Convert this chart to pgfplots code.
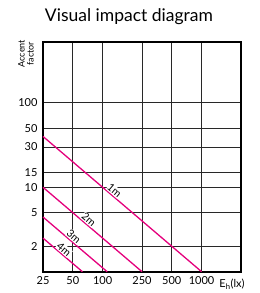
\documentclass[border=0pt]{standalone}
\usepackage{fontspec}
\setmainfont{Lato}
\usepackage{pgfplots}
\pgfplotsset{compat=1.18}
\definecolor{lmag}{RGB}{228,0,124}
\definecolor{grd}{RGB}{40,40,40}
\tikzset{lbl/.style={sloped, above, fill=white, inner sep=0.6pt, text=black, font=\fontsize{10.5}{10.5}\selectfont}}
\begin{document}
\begin{tikzpicture}
\useasboundingbox (-43pt,-21.3pt) rectangle (217pt,271.7pt);
\begin{axis}[
  at={(0pt,0pt)}, anchor=south west,
  scale only axis, width=198pt, height=230pt,
  xmode=log, ymode=log,
  xmin=25, xmax=2500, ymin=1, ymax=530,
  xtick={25,50,100,250,500,1000},
  xticklabels={25,50,100,250,500,1000},
  ytick={2,5,10,15,30,50,100},
  yticklabels={2,5,10,15,30,50,100},
  minor tick num=0, minor xtick={}, minor ytick={},
  tick style={draw=none},
  grid=major,
  major grid style={draw=grd, line width=0.9pt},
  axis line style={line width=2.2pt, black},
  ticklabel style={font=\fontsize{11}{11}\selectfont},
  xticklabel style={yshift=-1pt},
  yticklabel style={xshift=-2pt},
  /pgf/number format/assume math mode=true,
  clip=false,
]
\addplot[lmag, line width=1.3pt] coordinates {(25,40) (1000,1)}
  node[pos=0.43, lbl] {1m};
\addplot[lmag, line width=1.3pt] coordinates {(25,10) (250,1)}
  node[pos=0.43, lbl] {2m};
\addplot[lmag, line width=1.3pt] coordinates {(25,4.444) (111.1,1)}
  node[pos=0.43, lbl] {3m};
\addplot[lmag, line width=1.3pt] coordinates {(25,2.5) (62.5,1)}
  node[pos=0.45, lbl] {4m};
\node[font=\fontsize{11}{11}\selectfont, anchor=north] at ([xshift=-9pt,yshift=-4pt]rel axis cs:1,0) {E\textsubscript{h}(lx)};
\node[font=\fontsize{9}{9}\selectfont, rotate=90, align=center] at ([xshift=-17pt,yshift=-12pt]rel axis cs:0,1) {Accent\\factor};
\node[font=\fontsize{17.5}{17.5}\selectfont] at ([xshift=86pt,yshift=25pt]rel axis cs:0,1) {Visual impact diagram};
\end{axis}
\end{tikzpicture}
\end{document}
